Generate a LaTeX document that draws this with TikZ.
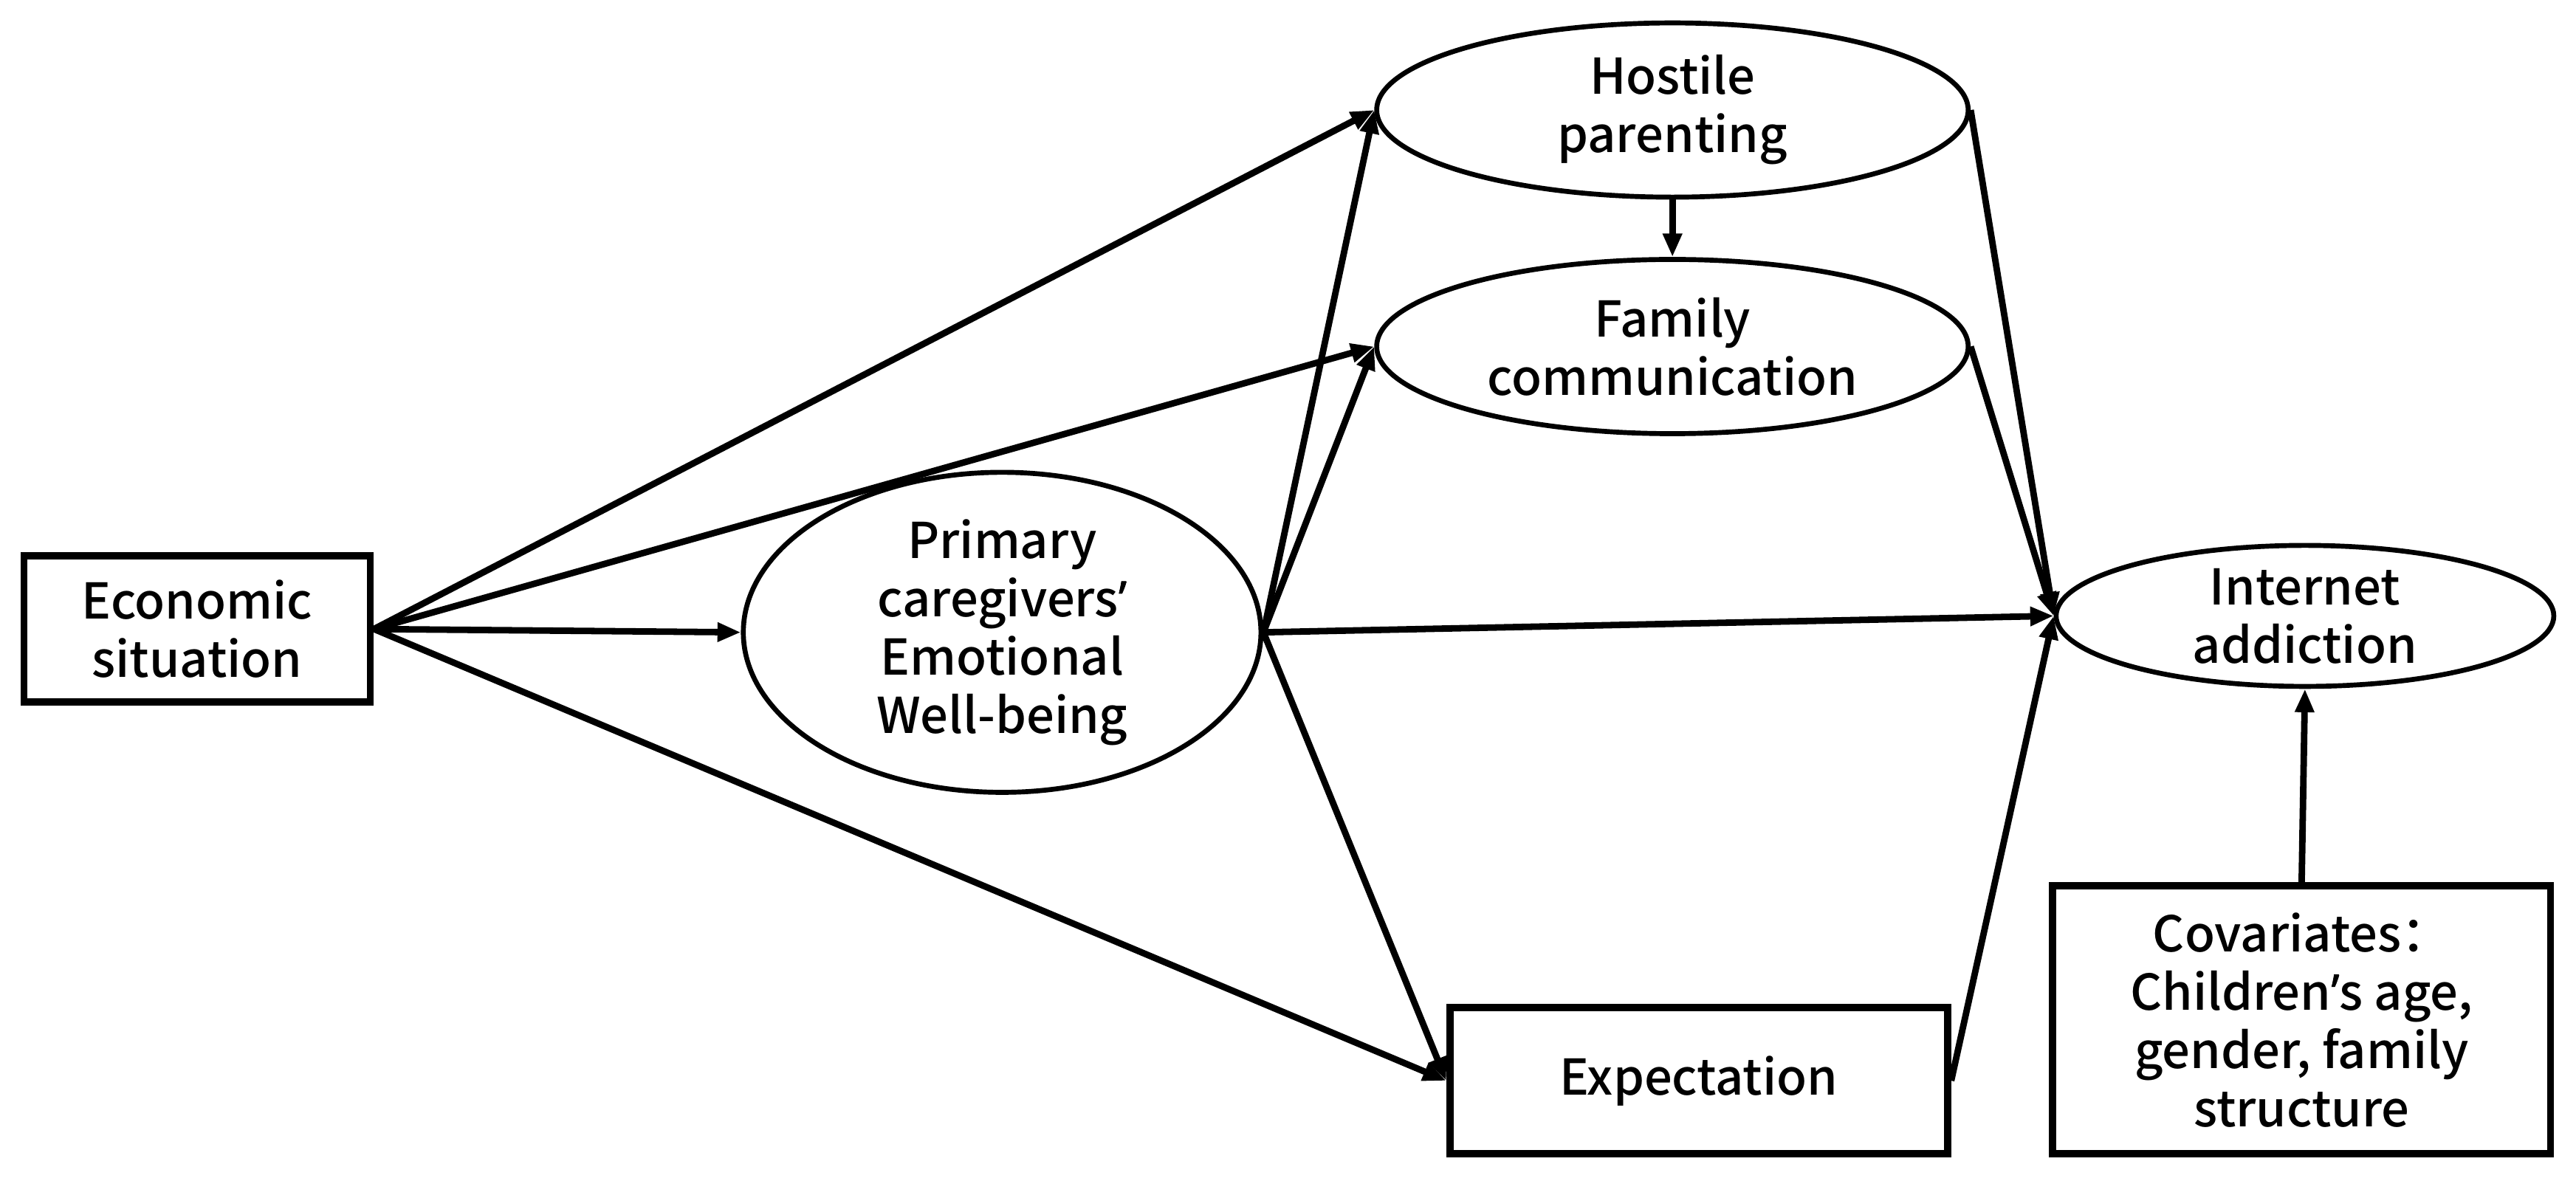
\documentclass[tikz,border=0pt]{standalone}
\usepackage{fontspec}
\setmainfont{Noto Sans CJK SC Medium}
\newfontfamily\latq{Open Sans}[BoldFont=*,FakeBold=1]
\newcommand{\apo}{{\latq\bfseries ’}}
\usetikzlibrary{shapes.geometric,arrows.meta}
\begin{document}
\begin{tikzpicture}[x=0.02225cm,y=-0.02225cm,
  lbl/.style={align=center,inner sep=0pt,font=\fontsize{19}{22.5}\selectfont},
  ell/.style={lbl,ellipse,draw,line width=1.9pt},
  boxn/.style={lbl,rectangle,draw,line width=2.8pt},
  arr/.style={line width=2.5pt,-{Triangle[length=9pt,width=7pt]}}]
\useasboundingbox (0,0) rectangle (1568,719);
\node[boxn,minimum width=4.69cm,minimum height=1.98cm] (econ) at (120,383) {Economic\\situation};
\node[ell,minimum width=7.01cm,minimum height=3.94cm] (prim) at (610,385) {Primary\\caregivers\apo\\Emotional\\Well-being};
\node[ell,minimum width=8.01cm,minimum height=2.36cm] (host) at (1018,67) {Hostile\\parenting};
\node[ell,minimum width=8.01cm,minimum height=2.36cm] (fam) at (1018,211) {Family\\communication};
\node[ell,minimum width=6.74cm,minimum height=1.91cm] (int) at (1403,375) {Internet\\addiction};
\node[boxn,minimum width=6.74cm,minimum height=1.98cm] (exp) at (1034,658) {Expectation};
\node[boxn,minimum width=6.74cm,minimum height=3.63cm] (cov) at (1401,621) {Covariates：\\Children\apo s age,\\gender, family\\structure};
\draw[arr] (econ.east) -- (host.west);
\draw[arr] (econ.east) -- (fam.west);
\draw[arr] (econ.east) -- (prim.west);
\draw[arr] (econ.east) -- (exp.west);
\draw[arr] (prim.east) -- (host.west);
\draw[arr] (prim.east) -- (fam.west);
\draw[arr] (prim.east) -- (int.west);
\draw[arr] (prim.east) -- (exp.west);
\draw[arr] (host.south) -- (fam.north);
\draw[arr] (host.east) -- (int.west);
\draw[arr] (fam.east) -- (int.west);
\draw[arr] (exp.east) -- (int.west);
\draw[arr] (cov.north) -- (int.south);
\end{tikzpicture}
\end{document}
